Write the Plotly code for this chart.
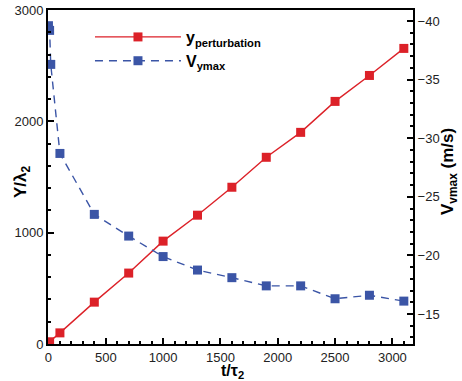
import plotly.graph_objects as go

t_red = [0, 10, 100, 400, 700, 1000, 1300, 1600, 1900, 2200, 2500, 2800, 3100]
y_pert = [0, 20, 100, 376, 637, 924, 1157, 1408, 1677, 1901, 2179, 2412, 2655]

t_blue = [0, 10, 20, 100, 400, 700, 1000, 1300, 1600, 1900, 2200, 2500, 2800, 3100]
v_ymax = [-39.6, -39.2, -36.3, -28.7, -23.5, -21.65, -19.9, -18.75, -18.1, -17.4, -17.4, -16.3, -16.6, -16.1]

red = "#dc2128"
blue = "#3b55a6"
font = "Liberation Sans, Arial, sans-serif"

fig = go.Figure()
fig.add_trace(go.Scatter(
    x=t_red, y=y_pert, mode="lines+markers",
    name="<b>y</b><sub><b>perturbation</b></sub>",
    line=dict(color=red, width=1.4),
    marker=dict(symbol="square", size=9, color=red),
))
fig.add_trace(go.Scatter(
    x=t_blue, y=v_ymax, mode="lines+markers", yaxis="y2",
    name="<b>V</b><sub><b>ymax</b></sub>",
    line=dict(color=blue, width=1.4, dash="8px,6px"),
    marker=dict(symbol="square", size=9, color=blue),
))

axis_common = dict(
    showline=True, linecolor="black", linewidth=2,
    ticks="inside", ticklen=6, tickwidth=1.5, tickcolor="black",
    showgrid=False, zeroline=False, automargin=False,
    tickfont=dict(family=font, size=13, color="#222"),
)

title_font = dict(family=font, size=17, color="black")

fig.update_layout(
    width=462, height=381,
    margin=dict(l=48, r=49, t=10, b=37),
    paper_bgcolor="white", plot_bgcolor="white",
    font=dict(family=font, color="black"),
    showlegend=True,
    legend=dict(x=0.115, y=0.97, xanchor="left", yanchor="top",
                bgcolor="rgba(0,0,0,0)", itemwidth=86,
                font=dict(family=font, size=16, color="black"),
                tracegroupgap=0),
    xaxis=dict(
        range=[-4, 3180], tickvals=[0, 500, 1000, 1500, 2000, 2500, 3000],
        minor=dict(dtick=100, tick0=0, ticks="inside", ticklen=3, tickcolor="black"),
        mirror=True,
        **axis_common,
    ),
    yaxis=dict(
        range=[0, 3000], tickvals=[0, 1000, 2000, 3000],
        minor=dict(dtick=200, tick0=0, ticks="inside", ticklen=3, tickcolor="black"),
        **axis_common,
    ),
    yaxis2=dict(
        overlaying="y", side="right",
        range=[-12.44, -40.94], tickvals=[-40, -35, -30, -25, -20, -15],
        minor=dict(dtick=1, tick0=0, ticks="inside", ticklen=3, tickcolor="black"),
        **axis_common,
    ),
    annotations=[
        dict(text="<b>t/τ<sub>2</sub></b>", xref="paper", yref="paper",
             x=0.5, y=0, xshift=2, yshift=-27, xanchor="center", yanchor="middle",
             showarrow=False, font=dict(family=font, size=16, color="black")),
        dict(text="<b>Y/λ<sub>2</sub></b>", xref="paper", yref="paper",
             x=0, y=0.5, xshift=-26, yshift=-5, xanchor="center", yanchor="middle",
             textangle=-90, showarrow=False, font=title_font),
        dict(text="<b>V<sub>vmax</sub> (m/s)</b>", xref="paper", yref="paper",
             x=1, y=0.5, xshift=36, yshift=5, xanchor="center", yanchor="middle",
             textangle=-90, showarrow=False, font=title_font),
    ],
)

fig.write_html("out.html", config={"displayModeBar": False},
               post_script="document.body.style.margin='0';")
